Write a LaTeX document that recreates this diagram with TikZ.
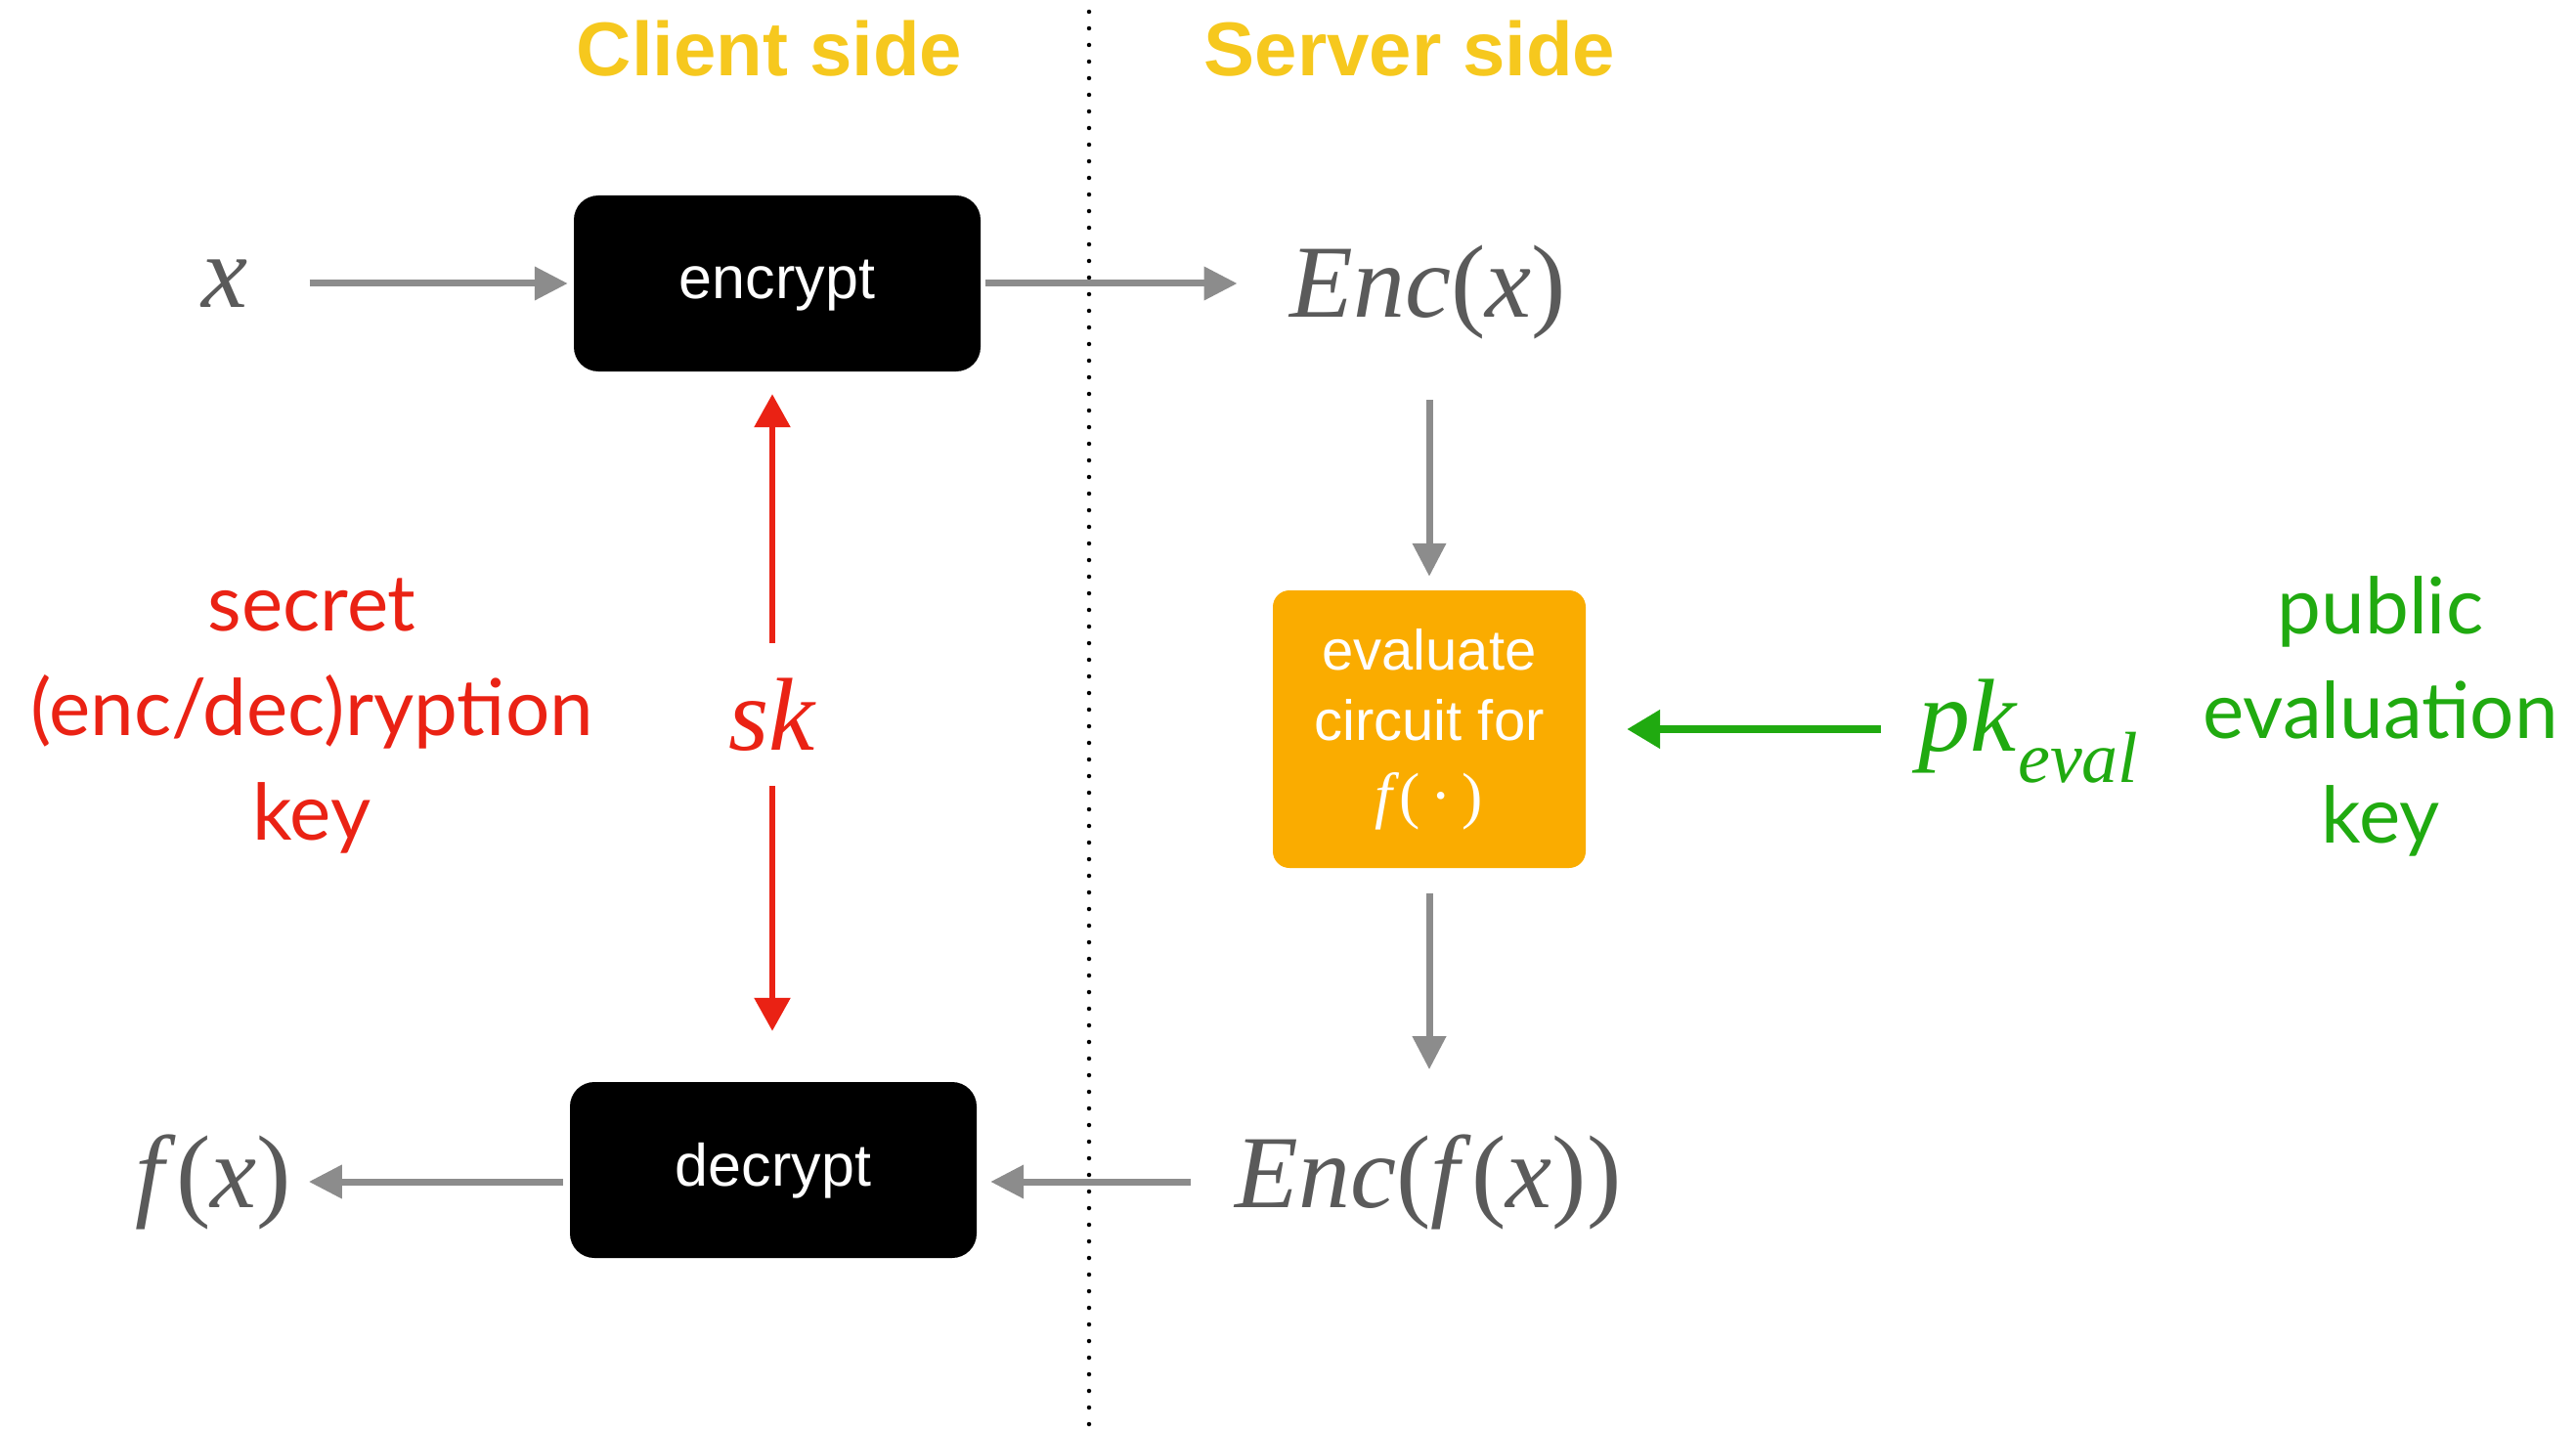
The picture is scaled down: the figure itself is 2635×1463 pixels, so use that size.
\documentclass[tikz,border=0pt]{standalone}
\usepackage{fontspec}
\setmainfont{Liberation Serif}
\newfontfamily\hel{Liberation Sans}
\newfontfamily\lato{Lato}
\usetikzlibrary{arrows.meta}
\definecolor{ttlyellow}{RGB}{246,200,30}
\definecolor{keyred}{RGB}{234,34,20}
\definecolor{keygreen}{RGB}{32,170,16}
\definecolor{evalorange}{RGB}{250,172,0}
\definecolor{mathgray}{RGB}{90,90,90}
\definecolor{arrowgray}{RGB}{140,140,140}
\tikzset{
  title/.style={text=ttlyellow, inner sep=0pt, font=\hel\bfseries\fontsize{78}{90}\selectfont},
  blackbox/.style={fill=black, rounded corners=25pt, minimum width=416pt, minimum height=180pt, text=white, inner sep=0pt, text height=32pt, text depth=0pt, font=\hel\fontsize{61}{72}\selectfont},
  evalbox/.style={fill=evalorange, rounded corners=17pt, minimum width=320pt, minimum height=284pt, text=white, inner sep=0pt, align=center, font=\hel\fontsize{58}{72}\selectfont},
  mathtxt/.style={text=mathgray, inner sep=0pt, font=\fontsize{106}{120}\selectfont},
  redlabel/.style={text=keyred, inner sep=0pt, align=center, font=\lato\fontsize{80}{107}\selectfont},
  greenlabel/.style={text=keygreen, inner sep=0pt, align=center, font=\lato\fontsize{80}{107}\selectfont},
  garrow/.style={draw=arrowgray, line width=7pt, -{Triangle[length=34pt,width=33pt]}},
  rarrow/.style={draw=keyred, line width=6pt, -{Triangle[length=34pt,width=36pt]}},
  grarrow/.style={draw=keygreen, line width=8pt, -{Triangle[length=34pt,width=38pt]}},
  divider/.style={draw=black, line width=4.5pt, line cap=round, dash pattern=on 0pt off 17pt}
}
\begin{document}
\begin{tikzpicture}[x=1pt, y=-1pt]
\useasboundingbox (0,0) rectangle (2635,1463);
% divider
\coordinate (dtop) at (1114,12);
\coordinate (dbot) at (1114,1463);
\draw[divider] (dtop) -- (dbot);
% titles
\node[title] (client) at (787,50) {Client side};
\node[title] (server) at (1442,50) {Server side};
% main nodes
\node[mathtxt] (xin) at (230,290) {\textit{x}};
\node[blackbox] (enc) at (795,290) {encrypt};
\node[mathtxt] (encx) at (1461,299) {\textit{Enc}(\textit{x})};
\node[evalbox] (ev) at (1462,746) {evaluate\\circuit for\\[6pt]{\rmfamily\fontsize{64}{72}\selectfont\textit{f}(\,·\,)}};
\node[mathtxt] (encfx) at (1461,1209) {\textit{Enc}(\textit{f}(\textit{x}))};
\node[blackbox] (dec) at (791,1197) {decrypt};
\node[mathtxt] (fx) at (218,1209) {\textit{f}(\textit{x})};
\node[mathtxt, text=keyred] (sk) at (790,731) {\textit{sk}};
\node[mathtxt, text=keygreen] (pk) at (2075,748) {\textit{pk}\raisebox{-0.3em}{\fontsize{74}{80}\selectfont\textit{eval}}};
% labels
\node[redlabel] (seclbl) at (319,733) {secret\\(enc/dec)ryption\\key};
\node[greenlabel] (publbl) at (2435,733) {public\\evaluation\\key};
% connectors
\draw[garrow, shorten <=63pt, shorten >=6pt] (xin.east |- enc.west) -- (enc.west);
\draw[garrow, shorten <=5pt, shorten >=54pt] (enc.east) -- (enc.east -| encx.west);
\draw[garrow, shorten <=62pt, shorten >=14pt] (encx.south -| ev.north) -- (ev.north);
\draw[garrow, shorten <=26pt, shorten >=66pt] (ev.south) -- (ev.south |- encfx.north);
\draw[garrow, shorten <=45pt, shorten >=14pt] (encfx.west) -- (encfx.west -| dec.east);
\draw[garrow, shorten <=7pt, shorten >=18pt] (dec.west |- fx.east) -- (fx.east);
\draw[rarrow, shorten <=36pt, shorten >=23pt] (sk.north) -- (sk.north |- enc.south);
\draw[rarrow, shorten <=36pt, shorten >=52pt] (sk.south) -- (sk.south |- dec.north);
\draw[grarrow, shorten <=38pt, shorten >=42pt] (pk.west |- ev.east) -- (ev.east);
\end{tikzpicture}
\end{document}
